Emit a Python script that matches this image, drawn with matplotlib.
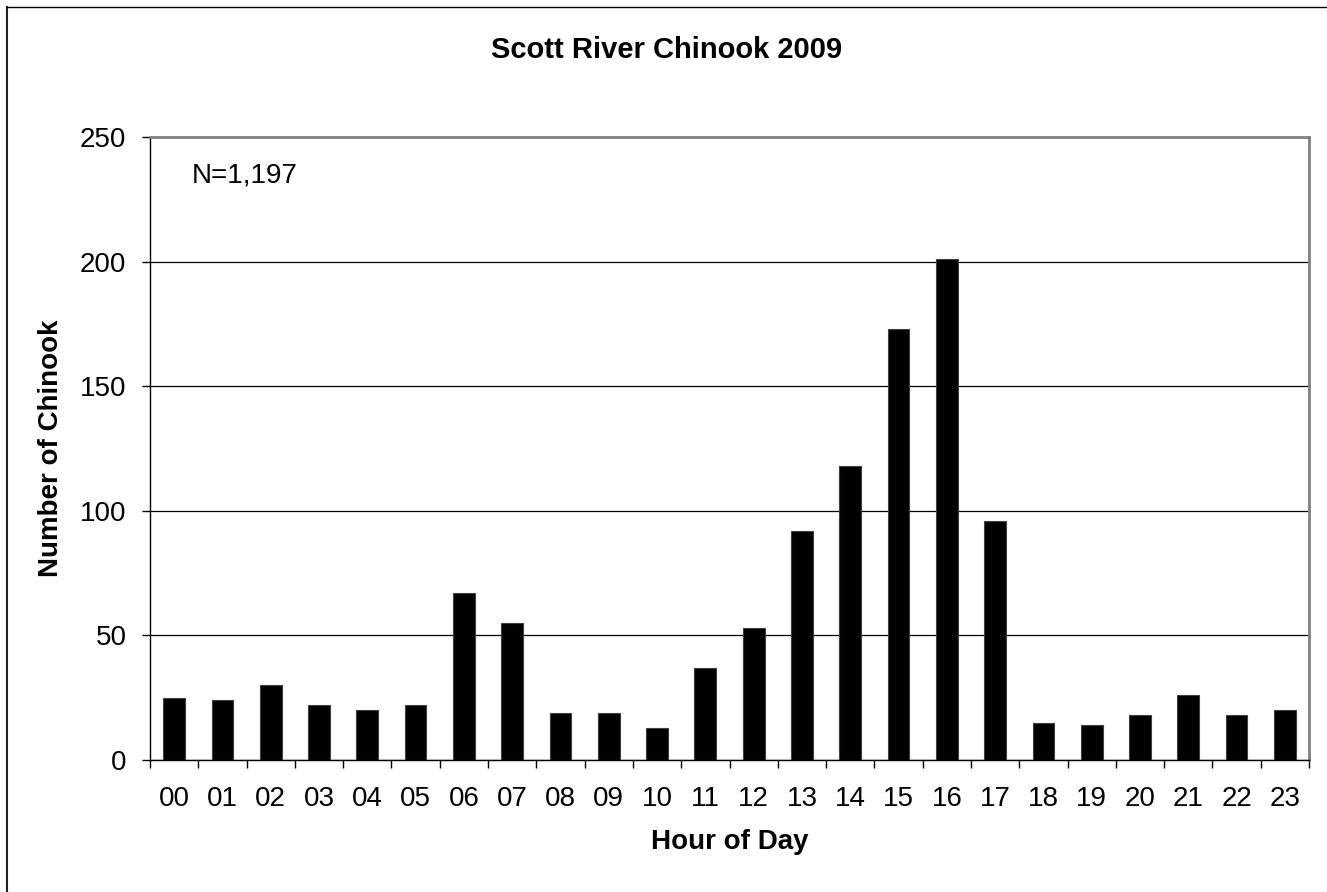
import matplotlib.pyplot as plt
import numpy as np

hours = ['00', '01', '02', '03', '04', '05', '06', '07', '08', '09', '10', '11',
         '12', '13', '14', '15', '16', '17', '18', '19', '20', '21', '22', '23']
counts = [25, 24, 30, 22, 20, 22, 67, 55, 19, 19, 13, 37,
          53, 92, 118, 173, 201, 96, 15, 14, 18, 26, 18, 20]

plt.rcParams['font.family'] = ['Liberation Sans', 'DejaVu Sans']

W, H = 1327, 892
fig = plt.figure(figsize=(W / 100, H / 100), dpi=100)
ax = fig.add_axes([150 / W, (H - 760) / H, 1159 / W, 623 / H])

x = np.arange(len(hours))
ax.bar(x, counts, width=0.45, color='black', edgecolor='#404040', linewidth=0.8, zorder=3)

ax.set_xlim(-0.5, len(hours) - 0.5)
ax.set_ylim(0, 250)
ax.set_yticks(range(0, 251, 50))
ax.yaxis.grid(True, color='black', linewidth=0.9, zorder=0)

ax.set_xticks(x)
ax.set_xticklabels(hours, fontsize=20)
ax.tick_params(axis='x', length=0, pad=19)
ax.set_xticks(np.arange(-0.5, len(hours), 1), minor=True)
ax.tick_params(axis='x', which='minor', length=6, width=1, direction='out')
ax.tick_params(axis='y', labelsize=20, length=6, width=1, direction='out', pad=11)

for side in ['top', 'right']:
    ax.spines[side].set_color('#808080')
    ax.spines[side].set_linewidth(2)
for side in ['left', 'bottom']:
    ax.spines[side].set_color('black')
    ax.spines[side].set_linewidth(1)

ax.set_xlabel('Hour of Day', fontsize=20, fontweight='bold', labelpad=12)
ax.set_ylabel('Number of Chinook', fontsize=20, fontweight='bold', labelpad=11.5)
fig.text(667 / W, 1 - 58 / H, 'Scott River Chinook 2009', ha='center', va='baseline',
         fontsize=21, fontweight='bold')
fig.text(192 / W, 1 - 183 / H, 'N=1,197', ha='left', va='baseline', fontsize=20)

# chart border (top and left edges visible in the crop)
fig.add_artist(plt.Line2D([6.5 / W, 6.5 / W], [0, 1 - 6.5 / H], transform=fig.transFigure,
                          color='#202020', linewidth=1.5))
fig.add_artist(plt.Line2D([6.5 / W, 1], [1 - 6.5 / H, 1 - 6.5 / H], transform=fig.transFigure,
                          color='black', linewidth=1))

fig.savefig('out.png', dpi=100)
